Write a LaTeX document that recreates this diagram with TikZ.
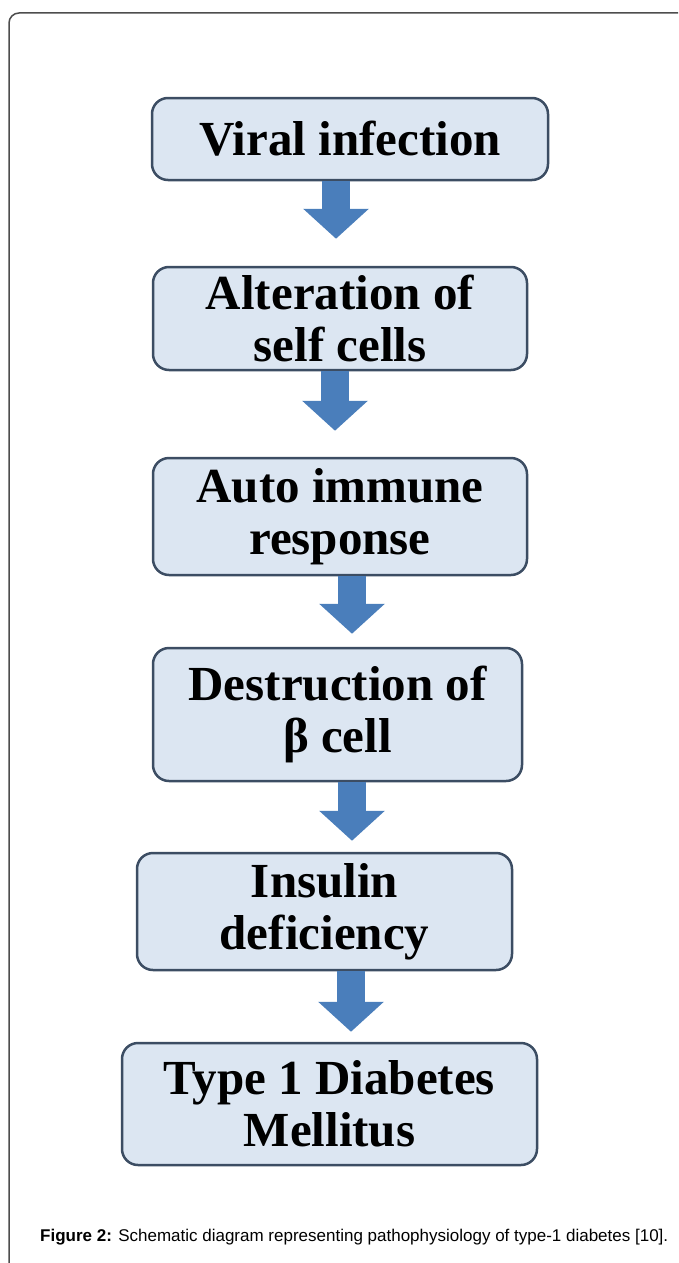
\documentclass[tikz,border=0pt]{standalone}
\usepackage{fontspec}
\setmainfont{Liberation Serif}
\setsansfont{Liberation Sans}
\usetikzlibrary{arrows.meta}

\definecolor{boxfill}{HTML}{DCE6F2}
\definecolor{boxline}{HTML}{3C4D63}
\definecolor{arrowblue}{HTML}{4A7EBB}
\definecolor{framegray}{HTML}{4D4D4D}

\begin{document}
\begin{tikzpicture}[x=1pt, y=-1pt,
  stage/.style={draw=boxline, line width=2.5pt, fill=boxfill, rounded corners=16pt,
    align=center, inner sep=0pt, font=\fontsize{49}{52}\selectfont\bfseries},
  flow/.style={arrowblue, line width=28pt, -{Triangle[length=30pt, width=64pt]}}]
  \useasboundingbox (0,0) rectangle (678,1263);

  % Outer frame: only top and left edges show
  \draw[framegray, line width=1.5pt, rounded corners=10pt] (9,1263) -- (9,13) -- (678,13);

  % Stages of the pathway
  \node[stage, minimum width=396pt, minimum height=82pt]  (viral)    at (350,139)    {Viral infection};
  \node[stage, minimum width=374pt, minimum height=103pt] (alter)    at (340,318.5)  {Alteration of\\self cells};
  \node[stage, minimum width=374pt, minimum height=117pt] (auto)     at (340,516.5)  {Auto immune\\response};
  \node[stage, minimum width=369pt, minimum height=133pt] (destr)    at (337.5,714.5) {Destruction of\\β cell};
  \node[stage, minimum width=375pt, minimum height=117pt] (insulin)  at (324.5,911.5) {Insulin\\deficiency};
  \node[stage, minimum width=415pt, minimum height=122pt] (diabetes) at (329.5,1104)  {Type 1 Diabetes\\Mellitus};

  % Block arrows between stages
  \foreach \a/\b/\x/\gap in {viral/alter/336/27, alter/auto/335/26, auto/destr/352/13,
                             destr/insulin/352/11, insulin/diabetes/351/10}
    \draw[flow, shorten >=\gap pt] (\a.south -| \x,0) -- (\b.north -| \x,0);

  % Caption
  \node[anchor=west, inner sep=0pt, font=\sffamily\fontsize{17}{20}\selectfont] (caption) at (40,1237)
    {\textbf{Figure 2:} Schematic diagram representing pathophysiology of type-1 diabetes [10].};
\end{tikzpicture}
\end{document}
